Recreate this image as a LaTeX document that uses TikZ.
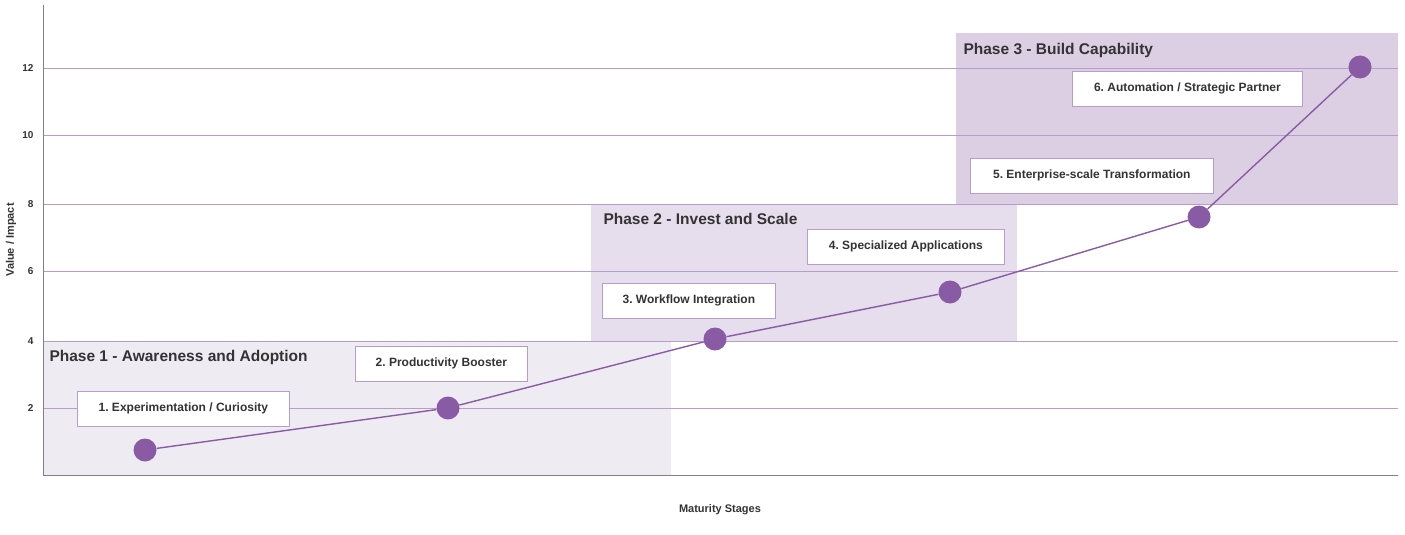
\documentclass[tikz,border=0pt]{standalone}
\usepackage{fontspec}
\setmainfont{Liberation Sans}
\begin{document}
\definecolor{ph1}{HTML}{EFEBF3}
\definecolor{ph2}{HTML}{E6DEEC}
\definecolor{ph3}{HTML}{DCCFE3}
\definecolor{pl}{HTML}{8A5BA5}
\definecolor{gl}{HTML}{B89CCB}
\definecolor{tx}{HTML}{333333}
\begin{tikzpicture}[x=1pt,y=-1pt,
  box/.style={draw=gl,fill=white,line width=0.7pt,minimum height=35pt,font=\bfseries\fontsize{12}{14}\selectfont,text=tx,anchor=north west,inner sep=0pt},
  phase/.style={font=\bfseries\fontsize{15.5}{18}\selectfont,text=tx,anchor=west},
  tick/.style={font=\bfseries\fontsize{10}{12}\selectfont,text=tx,anchor=east},
  dot/.style={circle,fill=pl,minimum size=23pt,inner sep=0pt}]
\useasboundingbox (0,0) rectangle (1405,535);
\fill[ph1] (43,341) rectangle (671,475);
\fill[ph2] (591,204) rectangle (1017,341);
\fill[ph3] (956,33) rectangle (1398,204);
\foreach \y/\l in {408/2,341/4,271/6,204/8,135/10,68/12}{
  \draw[gl,line width=0.6pt] (43,\y) -- (1398,\y);
  \node[tick] at (37,\y) {\l};}
\draw[gray,line width=0.8pt] (43,5) -- (43,475) -- (1398,475);
\node[phase] at (46,357) {Phase 1 - Awareness and Adoption};
\node[phase] at (600,219) {Phase 2 - Invest and Scale};
\node[phase] at (960,50) {Phase 3 - Build Capability};
\node[box,minimum width=212pt] at (77,391) {1.\ Experimentation / Curiosity};
\node[box,minimum width=172pt] at (355,346) {2.\ Productivity Booster};
\node[box,minimum width=173pt] at (602,283) {3.\ Workflow Integration};
\node[box,minimum width=197pt] at (807,229) {4.\ Specialized Applications};
\node[box,minimum width=243pt] at (970,158) {5.\ Enterprise-scale Transformation};
\node[box,minimum width=230pt] at (1072,71) {6.\ Automation / Strategic Partner};
\node[dot] (p1) at (145,450) {};
\node[dot] (p2) at (448,408) {};
\node[dot] (p3) at (715,339) {};
\node[dot] (p4) at (950,292) {};
\node[dot] (p5) at (1199,217) {};
\node[dot] (p6) at (1360,67) {};
\draw[pl,line width=1.4pt] (p1)--(p2)--(p3)--(p4)--(p5)--(p6);
\node[font=\bfseries\fontsize{11}{13}\selectfont,text=tx,rotate=90] at (11,240) {Value / Impact};
\node[font=\bfseries\fontsize{11}{13}\selectfont,text=tx] at (720,510) {Maturity Stages};
\end{tikzpicture}
\end{document}
